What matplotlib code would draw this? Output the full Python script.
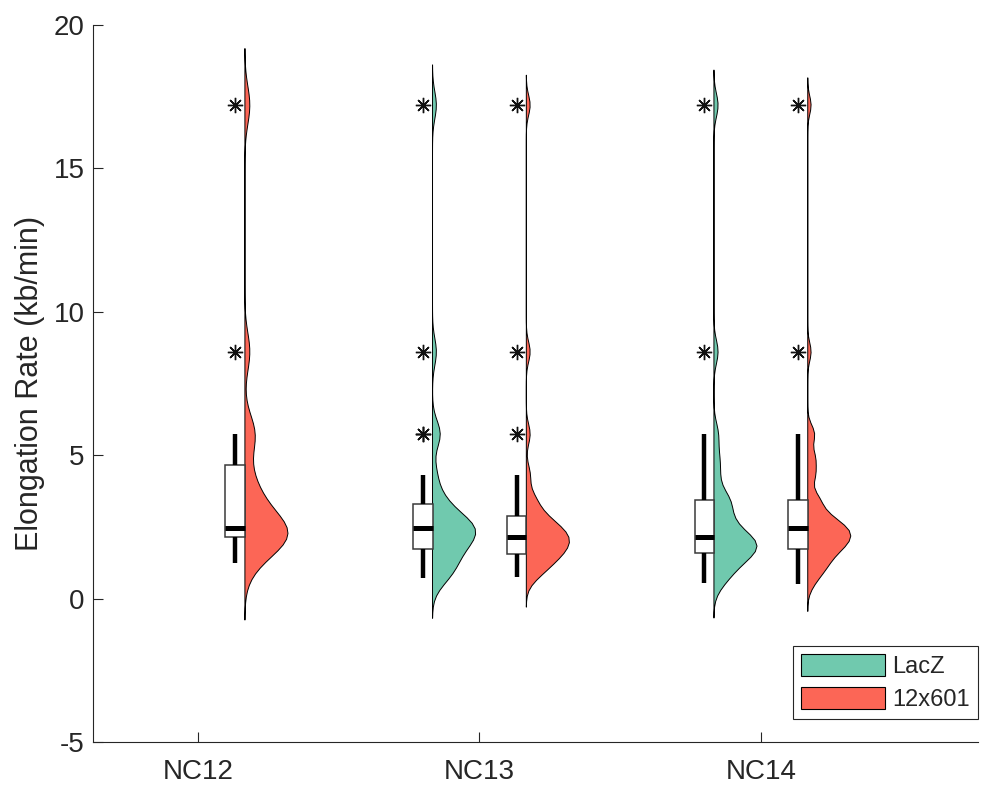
import numpy as np
import matplotlib.pyplot as plt
from matplotlib.patches import Patch

plt.rcParams['font.family'] = ['Liberation Sans', 'DejaVu Sans']
plt.rcParams['axes.unicode_minus'] = False

# elongation rates (kb/min) that occur in the measurements
rates = [17.2, 8.6, 5.73, 4.91, 4.3, 3.44, 2.87, 2.46, 2.15, 1.91, 1.72, 1.56, 1.43,
         1.32, 1.23, 1.15, 1.08, 1.01, 0.96, 0.91, 0.82, 0.78, 0.75, 0.72, 0.55, 0.51]

# number of transcripts at each rate
counts_nc12_601 = [1, 1, 2, 0, 1, 2, 1, 3, 3, 1, 1, 0, 0, 0, 1, 0, 0, 0, 0, 0, 0, 0, 0, 0, 0, 0]
counts_nc13_lacz = [1, 1, 2, 0, 1, 2, 3, 5, 3, 1, 2, 1, 0, 1, 0, 1, 0, 0, 1, 0, 0, 1, 0, 1, 0, 0]
counts_nc13_601 = [1, 1, 1, 0, 1, 2, 3, 4, 4, 3, 2, 2, 1, 1, 1, 0, 1, 0, 0, 1, 0, 0, 1, 0, 0, 0]
counts_nc14_lacz = [1, 1, 1, 1, 1, 3, 2, 2, 2, 4, 2, 1, 1, 1, 1, 0, 0, 1, 0, 0, 0, 1, 0, 0, 1, 0]
counts_nc14_601 = [1, 1, 2, 2, 2, 3, 4, 6, 5, 3, 3, 1, 1, 1, 1, 0, 1, 0, 1, 0, 1, 0, 0, 0, 0, 1]

cycles = ['NC12', 'NC13', 'NC14']
genotypes = ['LacZ', '12x601']

# kernel bandwidths used for the density estimates
bandwidth = {('NC12', '12x601'): 0.66,
             ('NC13', 'LacZ'): 0.47, ('NC13', '12x601'): 0.35,
             ('NC14', 'LacZ'): 0.41, ('NC14', '12x601'): 0.32}

data = {('NC12', '12x601'): counts_nc12_601,
        ('NC13', 'LacZ'): counts_nc13_lacz, ('NC13', '12x601'): counts_nc13_601,
        ('NC14', 'LacZ'): counts_nc14_lacz, ('NC14', '12x601'): counts_nc14_601}

colors = {'LacZ': '#70C9AE', '12x601': '#FC6656'}
offsets = {'LacZ': -1 / 6, '12x601': 1 / 6}
VIOLIN_W = 0.153
BOX_W = 0.069


def prctile(x, p):
    # MATLAB-style percentile (midpoint positions, linear interpolation)
    x = np.sort(x)
    n = len(x)
    pos = min(max(n * p + 0.5, 1), n)
    lo = int(np.floor(pos))
    if lo >= n:
        return x[-1]
    return x[lo - 1] + (pos - lo) * (x[lo] - x[lo - 1])


def box_stats(x):
    q1, med, q3 = prctile(x, 0.25), prctile(x, 0.5), prctile(x, 0.75)
    iqr = q3 - q1
    inside = x[(x >= q1 - 1.5 * iqr) & (x <= q3 + 1.5 * iqr)]
    return dict(med=med, q1=q1, q3=q3, whislo=inside.min(), whishi=inside.max(),
                fliers=x[(x < q1 - 1.5 * iqr) | (x > q3 + 1.5 * iqr)])


def kde(x, h, grid):
    z = (grid[:, None] - x[None, :]) / h
    return np.exp(-0.5 * z ** 2).sum(axis=1) / (len(x) * h * np.sqrt(2 * np.pi))


fig = plt.figure(figsize=(9.94, 7.85), dpi=100)
ax = fig.add_axes([0.0936, 0.0548, 0.8904, 0.9134])

for i, cyc in enumerate(cycles):
    for gen in genotypes:
        if (cyc, gen) not in data:
            continue
        x = np.repeat(rates, data[(cyc, gen)])
        h = bandwidth[(cyc, gen)]
        base = i + 1 + offsets[gen]

        # half violin to the right of the base line
        grid = np.linspace(x.min() - 3 * h, x.max() + 3 * h, 100)
        dens = kde(x, h, grid)
        w = VIOLIN_W * dens / dens.max()
        ax.fill(np.r_[base + w, base, base], np.r_[grid, grid[-1], grid[0]],
                facecolor=colors[gen], edgecolor='black', linewidth=0.7, zorder=2)

        # box plot to the left of the base line
        st = box_stats(x)
        ax.bxp([st], positions=[base - BOX_W / 2], widths=BOX_W, patch_artist=True,
               showcaps=False, manage_ticks=False,
               boxprops=dict(facecolor='white', edgecolor='#3a3a3a', linewidth=1.1),
               whiskerprops=dict(color='black', linewidth=3.2, solid_capstyle='butt'),
               medianprops=dict(color='black', linewidth=3.6, solid_capstyle='butt'),
               flierprops=dict(marker=(8, 2, 0), markersize=11, markeredgecolor='#111111',
                               markeredgewidth=1.0), zorder=3)

ax.set_xlim(0.627, 3.772)
ax.set_ylim(-5, 20)
ax.set_xticks([1, 2, 3])
ax.set_xticklabels(cycles)
ax.set_yticks([-5, 0, 5, 10, 15, 20])
ax.set_ylabel('Elongation Rate (kb/min)', fontsize=22, color='#262626', labelpad=6)

for side in ['top', 'right']:
    ax.spines[side].set_visible(False)
for side in ['left', 'bottom']:
    ax.spines[side].set_color('#262626')
    ax.spines[side].set_linewidth(0.8)
ax.tick_params(direction='in', length=7, width=0.8, color='#262626',
               labelcolor='#262626', labelsize=20)
ax.tick_params(axis='x', pad=12)
ax.tick_params(axis='y', pad=6)

handles = [Patch(facecolor=colors[g], edgecolor='black', linewidth=0.8) for g in genotypes]
leg = ax.legend(handles, genotypes, loc='lower right', bbox_to_anchor=(1.0, 0.032),
                fontsize=17, frameon=True, fancybox=False, framealpha=1,
                edgecolor='#262626', borderpad=0.35, handlelength=3.55,
                handleheight=1.05, handletextpad=0.3, labelspacing=0.38,
                borderaxespad=0)
leg.get_frame().set_linewidth(0.8)
for t in leg.get_texts():
    t.set_color('#262626')

fig.savefig('out.png', dpi=100)
